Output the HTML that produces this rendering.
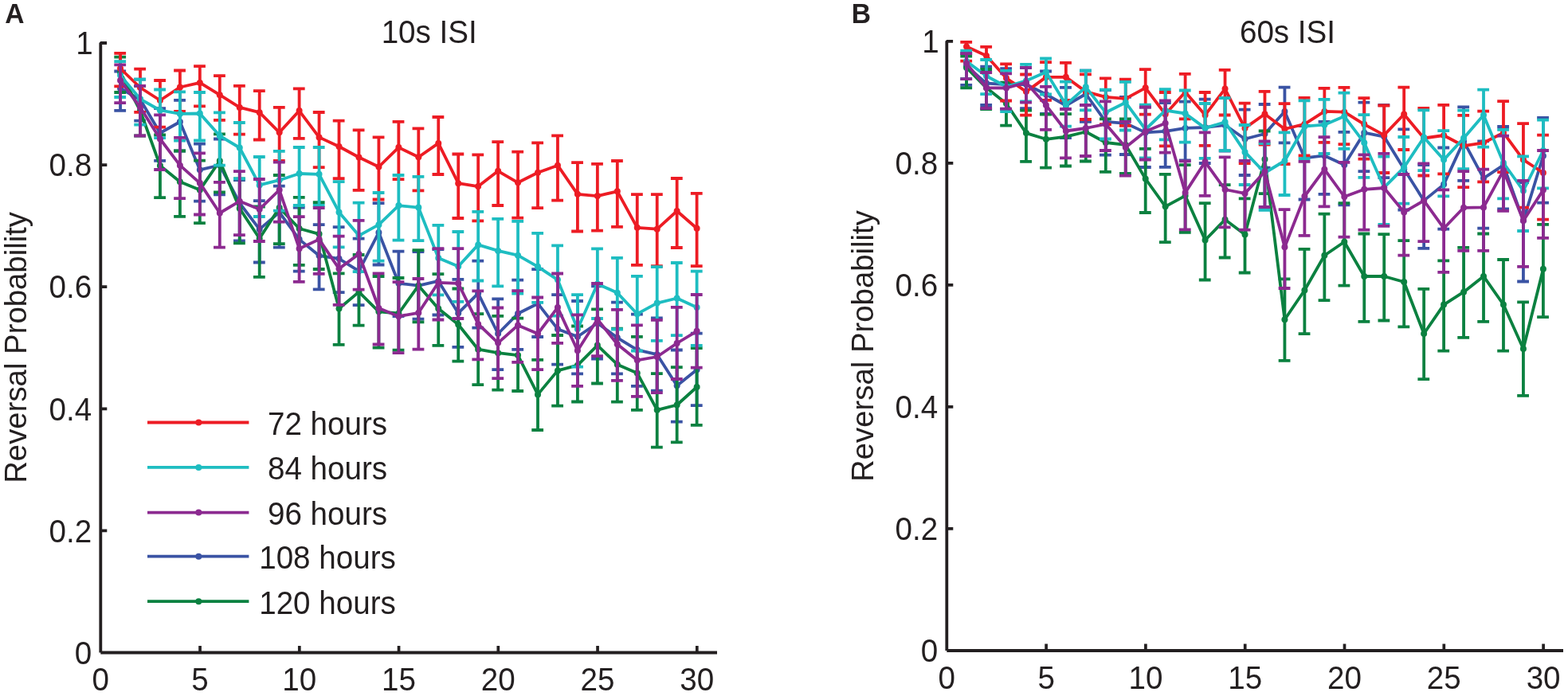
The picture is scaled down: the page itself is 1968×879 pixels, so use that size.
<!DOCTYPE html>
<html><head><meta charset="utf-8"><title>Reversal Probability</title>
<style>html,body{margin:0;padding:0;background:#fff;}svg{display:block;}</style></head>
<body><svg width="1968" height="879" viewBox="0 0 1968 879" font-family="'Liberation Sans', Arial, Helvetica, sans-serif" font-size="38.6" fill="#231F20">
<g stroke="#3A53A4" fill="none" stroke-width="3.8">
<path d="M151.05 89.5V138.8M143.3 89.5H158.1M143.3 138.8H158.1M176 99.6V151.6M168.25 99.6H183.05M168.25 151.6H183.05M200.95 136.2V201.8M193.2 136.2H208M193.2 201.8H208M225.9 125.8V189.5M218.15 125.8H232.95M218.15 189.5H232.95M250.85 180.6V252.6M243.1 180.6H257.9M243.1 252.6H257.9M275.8 174.5V244.3M268.05 174.5H282.85M268.05 244.3H282.85M300.75 226V302.4M293 226H307.8M293 302.4H307.8M325.7 252.1V329.5M317.95 252.1H332.75M317.95 329.5H332.75M350.65 233.7V310.7M342.9 233.7H357.7M342.9 310.7H357.7M375.6 260.6V340.7M367.85 260.6H382.65M367.85 340.7H382.65M400.55 282.2V363.4M392.8 282.2H407.6M392.8 363.4H407.6M425.5 285.1V367.1M417.75 285.1H432.55M417.75 367.1H432.55M450.45 299.6V383.2M442.7 299.6H457.5M442.7 383.2H457.5M475.4 255.1V332.5M467.65 255.1H482.45M467.65 332.5H482.45M500.35 315.7V397M492.6 315.7H507.4M492.6 397H507.4M525.3 316.1V400.6M517.55 316.1H532.35M517.55 400.6H532.35M550.25 313V395.5M542.5 313H557.3M542.5 395.5H557.3M575.2 350.9V435.8M567.45 350.9H582.25M567.45 435.8H582.25M600.15 327.7V411.6M592.4 327.7H607.2M592.4 411.6H607.2M625.1 375.4V464.1M617.35 375.4H632.15M617.35 464.1H632.15M650.05 351.6V438.8M642.3 351.6H657.1M642.3 438.8H657.1M675 338.1V423M667.25 338.1H682.05M667.25 423H682.05M699.95 370.2V457.7M692.2 370.2H707M692.2 457.7H707M724.9 378V469.3M717.15 378H731.95M717.15 469.3H731.95M749.85 359.3V450.7M742.1 359.3H756.9M742.1 450.7H756.9M774.8 379.6V469.4M767.05 379.6H781.85M767.05 469.4H781.85M799.75 394.7V484.8M792 394.7H806.8M792 484.8H806.8M824.7 399.4V490.6M816.95 399.4H831.75M816.95 490.6H831.75M849.65 439.5V529.7M841.9 439.5H856.7M841.9 529.7H856.7M874.6 418.7V509.2M866.85 418.7H881.65M866.85 509.2H881.65"/>
<path stroke-linejoin="round" d="M151.05 111L176 125L200.95 167L225.9 153L250.85 213.3L275.8 207.5L300.75 255L325.7 287.9L350.65 266.6L375.6 300.6L400.55 321L425.5 324.8L450.45 340.3L475.4 291.9L500.35 355.8L525.3 358.7L550.25 352.9L575.2 393.2L600.15 368.3L625.1 419L650.05 393.8L675 381.2L699.95 413.2L724.9 422.8L749.85 405.8L774.8 424.1L799.75 439.3L824.7 445.2L849.65 484.2L874.6 464.2"/>
</g><g fill="#3A53A4"><circle cx="151.05" cy="111" r="4"/><circle cx="176" cy="125" r="4"/><circle cx="200.95" cy="167" r="4"/><circle cx="225.9" cy="153" r="4"/><circle cx="250.85" cy="213.3" r="4"/><circle cx="275.8" cy="207.5" r="4"/><circle cx="300.75" cy="255" r="4"/><circle cx="325.7" cy="287.9" r="4"/><circle cx="350.65" cy="266.6" r="4"/><circle cx="375.6" cy="300.6" r="4"/><circle cx="400.55" cy="321" r="4"/><circle cx="425.5" cy="324.8" r="4"/><circle cx="450.45" cy="340.3" r="4"/><circle cx="475.4" cy="291.9" r="4"/><circle cx="500.35" cy="355.8" r="4"/><circle cx="525.3" cy="358.7" r="4"/><circle cx="550.25" cy="352.9" r="4"/><circle cx="575.2" cy="393.2" r="4"/><circle cx="600.15" cy="368.3" r="4"/><circle cx="625.1" cy="419" r="4"/><circle cx="650.05" cy="393.8" r="4"/><circle cx="675" cy="381.2" r="4"/><circle cx="699.95" cy="413.2" r="4"/><circle cx="724.9" cy="422.8" r="4"/><circle cx="749.85" cy="405.8" r="4"/><circle cx="774.8" cy="424.1" r="4"/><circle cx="799.75" cy="439.3" r="4"/><circle cx="824.7" cy="445.2" r="4"/><circle cx="849.65" cy="484.2" r="4"/><circle cx="874.6" cy="464.2" r="4"/></g>
<g stroke="#0B8140" fill="none" stroke-width="3.8">
<path d="M151.05 71.7V116M143.3 71.7H158.1M143.3 116H158.1M176 107.8V170.5M168.25 107.8H183.05M168.25 170.5H183.05M200.95 169.4V248.2M193.2 169.4H208M193.2 248.2H208M225.9 189.5V271.8M218.15 189.5H232.95M218.15 271.8H232.95M250.85 201.7V280.1M243.1 201.7H257.9M243.1 280.1H257.9M275.8 168.3V241.4M268.05 168.3H282.85M268.05 241.4H282.85M300.75 224.4V305.3M293 224.4H307.8M293 305.3H307.8M325.7 259.5V347.8M317.95 259.5H332.75M317.95 347.8H332.75M350.65 220V306.2M342.9 220H357.7M342.9 306.2H357.7M375.6 247.8V332.9M367.85 247.8H382.65M367.85 332.9H382.65M400.55 254.2V338M392.8 254.2H407.6M392.8 338H407.6M425.5 343.4V432.9M417.75 343.4H432.55M417.75 432.9H432.55M450.45 320V408.7M442.7 320H457.5M442.7 408.7H457.5M475.4 347V436.7M467.65 347H482.45M467.65 436.7H482.45M500.35 349V439.6M492.6 349H507.4M492.6 439.6H507.4M525.3 314.2V404.3M517.55 314.2H532.35M517.55 404.3H532.35M550.25 344.2V433.8M542.5 344.2H557.3M542.5 433.8H557.3M575.2 362.5V453.6M567.45 362.5H582.25M567.45 453.6H582.25M600.15 394.2V483.2M592.4 394.2H607.2M592.4 483.2H607.2M625.1 396.8V489.6M617.35 396.8H632.15M617.35 489.6H632.15M650.05 399.7V491M642.3 399.7H657.1M642.3 491H657.1M675 451.9V540M667.25 451.9H682.05M667.25 540H682.05M699.95 421V509.6M692.2 421H707M692.2 509.6H707M724.9 409.5V504.5M717.15 409.5H731.95M717.15 504.5H731.95M749.85 388.4V481.5M742.1 388.4H756.9M742.1 481.5H756.9M774.8 412.7V504.7M767.05 412.7H781.85M767.05 504.7H781.85M799.75 422.8V514.8M792 422.8H806.8M792 514.8H806.8M824.7 469.2V561.6M816.95 469.2H831.75M816.95 561.6H831.75M849.65 461.2V555.4M841.9 461.2H856.7M841.9 555.4H856.7M874.6 437.1V533.8M866.85 437.1H881.65M866.85 533.8H881.65"/>
<path stroke-linejoin="round" d="M151.05 91L176 139L200.95 208L225.9 228.3L250.85 238.5L275.8 202L300.75 261.7L325.7 299.5L350.65 260.8L375.6 287L400.55 293.8L425.5 387.5L450.45 366.6L475.4 391.3L500.35 393.5L525.3 358.7L550.25 387.5L575.2 407.5L600.15 438.7L625.1 443.2L650.05 446.1L675 495.4L699.95 465.4L724.9 458.7L749.85 433.6L774.8 457.7L799.75 468.4L824.7 514.8L849.65 508.5L874.6 486"/>
</g><g fill="#0B8140"><circle cx="151.05" cy="91" r="4"/><circle cx="176" cy="139" r="4"/><circle cx="200.95" cy="208" r="4"/><circle cx="225.9" cy="228.3" r="4"/><circle cx="250.85" cy="238.5" r="4"/><circle cx="275.8" cy="202" r="4"/><circle cx="300.75" cy="261.7" r="4"/><circle cx="325.7" cy="299.5" r="4"/><circle cx="350.65" cy="260.8" r="4"/><circle cx="375.6" cy="287" r="4"/><circle cx="400.55" cy="293.8" r="4"/><circle cx="425.5" cy="387.5" r="4"/><circle cx="450.45" cy="366.6" r="4"/><circle cx="475.4" cy="391.3" r="4"/><circle cx="500.35" cy="393.5" r="4"/><circle cx="525.3" cy="358.7" r="4"/><circle cx="550.25" cy="387.5" r="4"/><circle cx="575.2" cy="407.5" r="4"/><circle cx="600.15" cy="438.7" r="4"/><circle cx="625.1" cy="443.2" r="4"/><circle cx="650.05" cy="446.1" r="4"/><circle cx="675" cy="495.4" r="4"/><circle cx="699.95" cy="465.4" r="4"/><circle cx="724.9" cy="458.7" r="4"/><circle cx="749.85" cy="433.6" r="4"/><circle cx="774.8" cy="457.7" r="4"/><circle cx="799.75" cy="468.4" r="4"/><circle cx="824.7" cy="514.8" r="4"/><circle cx="849.65" cy="508.5" r="4"/><circle cx="874.6" cy="486" r="4"/></g>
<g stroke="#ED1C24" fill="none" stroke-width="3.8">
<path d="M151.05 66.8V108.3M143.3 66.8H158.1M143.3 108.3H158.1M176 86.7V140.8M168.25 86.7H183.05M168.25 140.8H183.05M200.95 101V159.7M193.2 101H208M193.2 159.7H208M225.9 88.5V140M218.15 88.5H232.95M218.15 140H232.95M250.85 83.2V133.3M243.1 83.2H257.9M243.1 133.3H257.9M275.8 95.2V150.9M268.05 95.2H282.85M268.05 150.9H282.85M300.75 107.8V168.6M293 107.8H307.8M293 168.6H307.8M325.7 114.1V175.5M317.95 114.1H332.75M317.95 175.5H332.75M350.65 134.8V202M342.9 134.8H357.7M342.9 202H357.7M375.6 111.4V173.9M367.85 111.4H382.65M367.85 173.9H382.65M400.55 141V210.1M392.8 141H407.6M392.8 210.1H407.6M425.5 151.7V224.2M417.75 151.7H432.55M417.75 224.2H432.55M450.45 163.3V238.9M442.7 163.3H457.5M442.7 238.9H457.5M475.4 172.4V250.5M467.65 172.4H482.45M467.65 250.5H482.45M500.35 152.8V225.2M492.6 152.8H507.4M492.6 225.2H507.4M525.3 161.3V239.3M517.55 161.3H532.35M517.55 239.3H532.35M550.25 147V219M542.5 147H557.3M542.5 219H557.3M575.2 193.5V274M567.45 193.5H582.25M567.45 274H582.25M600.15 194.4V277.4M592.4 194.4H607.2M592.4 277.4H607.2M625.1 178.1V258M617.35 178.1H632.15M617.35 258H632.15M650.05 190.6V273.7M642.3 190.6H657.1M642.3 273.7H657.1M675 179.4V261.2M667.25 179.4H682.05M667.25 261.2H682.05M699.95 170.3V251.6M692.2 170.3H707M692.2 251.6H707M724.9 204.2V290.5M717.15 204.2H731.95M717.15 290.5H731.95M749.85 205.9V289.6M742.1 205.9H756.9M742.1 289.6H756.9M774.8 202V284.8M767.05 202H781.85M767.05 284.8H781.85M799.75 244.2V332.8M792 244.2H806.8M792 332.8H806.8M824.7 244.2V334.1M816.95 244.2H831.75M816.95 334.1H831.75M849.65 224V311M841.9 224H856.7M841.9 311H856.7M874.6 242.9V334.2M866.85 242.9H881.65M866.85 334.2H881.65"/>
<path stroke-linejoin="round" d="M151.05 86L176 110L200.95 126L225.9 109.5L250.85 103.9L275.8 119.2L300.75 134.9L325.7 141.2L350.65 166.3L375.6 139.1L400.55 172.4L425.5 184L450.45 197.5L475.4 209.5L500.35 185.1L525.3 197.3L550.25 179.9L575.2 230.2L600.15 234.1L625.1 214.8L650.05 229.3L675 216.7L699.95 207.7L724.9 243.8L749.85 246.1L774.8 240.3L799.75 285.8L824.7 287.7L849.65 265L874.6 286.8"/>
</g><g fill="#ED1C24"><circle cx="151.05" cy="86" r="4"/><circle cx="176" cy="110" r="4"/><circle cx="200.95" cy="126" r="4"/><circle cx="225.9" cy="109.5" r="4"/><circle cx="250.85" cy="103.9" r="4"/><circle cx="275.8" cy="119.2" r="4"/><circle cx="300.75" cy="134.9" r="4"/><circle cx="325.7" cy="141.2" r="4"/><circle cx="350.65" cy="166.3" r="4"/><circle cx="375.6" cy="139.1" r="4"/><circle cx="400.55" cy="172.4" r="4"/><circle cx="425.5" cy="184" r="4"/><circle cx="450.45" cy="197.5" r="4"/><circle cx="475.4" cy="209.5" r="4"/><circle cx="500.35" cy="185.1" r="4"/><circle cx="525.3" cy="197.3" r="4"/><circle cx="550.25" cy="179.9" r="4"/><circle cx="575.2" cy="230.2" r="4"/><circle cx="600.15" cy="234.1" r="4"/><circle cx="625.1" cy="214.8" r="4"/><circle cx="650.05" cy="229.3" r="4"/><circle cx="675" cy="216.7" r="4"/><circle cx="699.95" cy="207.7" r="4"/><circle cx="724.9" cy="243.8" r="4"/><circle cx="749.85" cy="246.1" r="4"/><circle cx="774.8" cy="240.3" r="4"/><circle cx="799.75" cy="285.8" r="4"/><circle cx="824.7" cy="287.7" r="4"/><circle cx="849.65" cy="265" r="4"/><circle cx="874.6" cy="286.8" r="4"/></g>
<g stroke="#1EBDC1" fill="none" stroke-width="3.8">
<path d="M151.05 77.1V122M143.3 77.1H158.1M143.3 122H158.1M176 99.6V156.6M168.25 99.6H183.05M168.25 156.6H183.05M200.95 112.5V173.2M193.2 112.5H208M193.2 173.2H208M225.9 115.3V176.7M218.15 115.3H232.95M218.15 176.7H232.95M250.85 116V176.5M243.1 116H257.9M243.1 176.5H257.9M275.8 141.4V207.7M268.05 141.4H282.85M268.05 207.7H282.85M300.75 154V224.4M293 154H307.8M293 224.4H307.8M325.7 197V272M317.95 197H332.75M317.95 272H332.75M350.65 189.8V264.7M342.9 189.8H357.7M342.9 264.7H357.7M375.6 185V258M367.85 185H382.65M367.85 258H382.65M400.55 185V258M392.8 185H407.6M392.8 258H407.6M425.5 228.1V310.3M417.75 228.1H432.55M417.75 310.3H432.55M450.45 254.7V341.2M442.7 254.7H457.5M442.7 341.2H457.5M475.4 242V327.7M467.65 242H482.45M467.65 327.7H482.45M500.35 220V301.6M492.6 220H507.4M492.6 301.6H507.4M525.3 221.9V302.2M517.55 221.9H532.35M517.55 302.2H532.35M550.25 282.8V370.3M542.5 282.8H557.3M542.5 370.3H557.3M575.2 291V378.8M567.45 291H582.25M567.45 378.8H582.25M600.15 265.8V352.5M592.4 265.8H607.2M592.4 352.5H607.2M625.1 274.8V359.4M617.35 274.8H632.15M617.35 359.4H632.15M650.05 277.8V368.7M642.3 277.8H657.1M642.3 368.7H657.1M675 292.8V379.9M667.25 292.8H682.05M667.25 379.9H682.05M699.95 308.4V396.7M692.2 308.4H707M692.2 396.7H707M724.9 370.2V460.6M717.15 370.2H731.95M717.15 460.6H731.95M749.85 312.3V400M742.1 312.3H756.9M742.1 400H756.9M774.8 323.9V413.5M767.05 323.9H781.85M767.05 413.5H781.85M799.75 346.8V440.5M792 346.8H806.8M792 440.5H806.8M824.7 335.1V427.8M816.95 335.1H831.75M816.95 427.8H831.75M849.65 330V421.1M841.9 330H856.7M841.9 421.1H856.7M874.6 340.6V433.8M866.85 340.6H881.65M866.85 433.8H881.65"/>
<path stroke-linejoin="round" d="M151.05 94.6L176 124.3L200.95 138.5L225.9 142.9L250.85 142.5L275.8 170.6L300.75 185.5L325.7 232.4L350.65 226.2L375.6 218L400.55 218.8L425.5 266.4L450.45 295.8L475.4 282.2L500.35 258.1L525.3 260.6L550.25 324L575.2 334.5L600.15 307.4L625.1 314.9L650.05 320.7L675 334.8L699.95 351.3L724.9 413.2L749.85 356.4L774.8 367.7L799.75 394.2L824.7 380.6L849.65 374.5L874.6 386"/>
</g><g fill="#1EBDC1"><circle cx="151.05" cy="94.6" r="4"/><circle cx="176" cy="124.3" r="4"/><circle cx="200.95" cy="138.5" r="4"/><circle cx="225.9" cy="142.9" r="4"/><circle cx="250.85" cy="142.5" r="4"/><circle cx="275.8" cy="170.6" r="4"/><circle cx="300.75" cy="185.5" r="4"/><circle cx="325.7" cy="232.4" r="4"/><circle cx="350.65" cy="226.2" r="4"/><circle cx="375.6" cy="218" r="4"/><circle cx="400.55" cy="218.8" r="4"/><circle cx="425.5" cy="266.4" r="4"/><circle cx="450.45" cy="295.8" r="4"/><circle cx="475.4" cy="282.2" r="4"/><circle cx="500.35" cy="258.1" r="4"/><circle cx="525.3" cy="260.6" r="4"/><circle cx="550.25" cy="324" r="4"/><circle cx="575.2" cy="334.5" r="4"/><circle cx="600.15" cy="307.4" r="4"/><circle cx="625.1" cy="314.9" r="4"/><circle cx="650.05" cy="320.7" r="4"/><circle cx="675" cy="334.8" r="4"/><circle cx="699.95" cy="351.3" r="4"/><circle cx="724.9" cy="413.2" r="4"/><circle cx="749.85" cy="356.4" r="4"/><circle cx="774.8" cy="367.7" r="4"/><circle cx="799.75" cy="394.2" r="4"/><circle cx="824.7" cy="380.6" r="4"/><circle cx="849.65" cy="374.5" r="4"/><circle cx="874.6" cy="386" r="4"/></g>
<g stroke="#8C2A90" fill="none" stroke-width="3.8">
<path d="M151.05 81.3V129.2M143.3 81.3H158.1M143.3 129.2H158.1M176 107.8V170.5M168.25 107.8H183.05M168.25 170.5H183.05M200.95 144.3V213M193.2 144.3H208M193.2 213H208M225.9 172.8V249.1M218.15 172.8H232.95M218.15 249.1H232.95M250.85 192.3V269.5M243.1 192.3H257.9M243.1 269.5H257.9M275.8 228.9V310.7M268.05 228.9H282.85M268.05 310.7H282.85M300.75 215.2V295.2M293 215.2H307.8M293 295.2H307.8M325.7 225V303M317.95 225H332.75M317.95 303H332.75M350.65 203.7V278.6M342.9 203.7H357.7M342.9 278.6H357.7M375.6 272.2V353.9M367.85 272.2H382.65M367.85 353.9H382.65M400.55 261V343.8M392.8 261H407.6M392.8 343.8H407.6M425.5 296.7V382.9M417.75 296.7H432.55M417.75 382.9H432.55M450.45 276.8V363.6M442.7 276.8H457.5M442.7 363.6H457.5M475.4 343.4V432.5M467.65 343.4H482.45M467.65 432.5H482.45M500.35 354.2V443.1M492.6 354.2H507.4M492.6 443.1H507.4M525.3 350V438.7M517.55 350H532.35M517.55 438.7H532.35M550.25 312.2V401.5M542.5 312.2H557.3M542.5 401.5H557.3M575.2 312.2V400M567.45 312.2H582.25M567.45 400H582.25M600.15 365.4V451.3M592.4 365.4H607.2M592.4 451.3H607.2M625.1 386.5V475.1M617.35 386.5H632.15M617.35 475.1H632.15M650.05 365.2V454.8M642.3 365.2H657.1M642.3 454.8H657.1M675 373.5V464.1M667.25 373.5H682.05M667.25 464.1H682.05M699.95 343.5V430.8M692.2 343.5H707M692.2 430.8H707M724.9 395.3V484.8M717.15 395.3H731.95M717.15 484.8H731.95M749.85 356V447.2M742.1 356H756.9M742.1 447.2H756.9M774.8 388.9V477.8M767.05 388.9H781.85M767.05 477.8H781.85M799.75 408.3V497.8M792 408.3H806.8M792 497.8H806.8M824.7 401.9V493.1M816.95 401.9H831.75M816.95 493.1H831.75M849.65 385.8V476M841.9 385.8H856.7M841.9 476H856.7M874.6 370V461.6M866.85 370H881.65M866.85 461.6H881.65"/>
<path stroke-linejoin="round" d="M151.05 101L176 134.8L200.95 174.5L225.9 207.7L250.85 229.8L275.8 267.5L300.75 252.7L325.7 262.7L350.65 238.5L375.6 312.2L400.55 300.6L425.5 337.4L450.45 319L475.4 387L500.35 397.2L525.3 392.8L550.25 354.8L575.2 355.8L600.15 406.9L625.1 430.6L650.05 408.4L675 419L699.95 386.1L724.9 440.3L749.85 400.9L774.8 432.2L799.75 452.3L824.7 448L849.65 431L874.6 415.8"/>
</g><g fill="#8C2A90"><circle cx="151.05" cy="101" r="4"/><circle cx="176" cy="134.8" r="4"/><circle cx="200.95" cy="174.5" r="4"/><circle cx="225.9" cy="207.7" r="4"/><circle cx="250.85" cy="229.8" r="4"/><circle cx="275.8" cy="267.5" r="4"/><circle cx="300.75" cy="252.7" r="4"/><circle cx="325.7" cy="262.7" r="4"/><circle cx="350.65" cy="238.5" r="4"/><circle cx="375.6" cy="312.2" r="4"/><circle cx="400.55" cy="300.6" r="4"/><circle cx="425.5" cy="337.4" r="4"/><circle cx="450.45" cy="319" r="4"/><circle cx="475.4" cy="387" r="4"/><circle cx="500.35" cy="397.2" r="4"/><circle cx="525.3" cy="392.8" r="4"/><circle cx="550.25" cy="354.8" r="4"/><circle cx="575.2" cy="355.8" r="4"/><circle cx="600.15" cy="406.9" r="4"/><circle cx="625.1" cy="430.6" r="4"/><circle cx="650.05" cy="408.4" r="4"/><circle cx="675" cy="419" r="4"/><circle cx="699.95" cy="386.1" r="4"/><circle cx="724.9" cy="440.3" r="4"/><circle cx="749.85" cy="400.9" r="4"/><circle cx="774.8" cy="432.2" r="4"/><circle cx="799.75" cy="452.3" r="4"/><circle cx="824.7" cy="448" r="4"/><circle cx="849.65" cy="431" r="4"/><circle cx="874.6" cy="415.8" r="4"/></g>
<path stroke="#231F20" stroke-width="3.8" fill="none" stroke-linejoin="bevel" d="M134.1 54H126.3V819.5M126.3 819.5H900"/>
<path stroke="#231F20" stroke-width="3.7" d="M126.3 666.4H134.3M126.3 513.3H134.3M126.3 360.2H134.3M126.3 207.1H134.3M251.05 819.5V811M375.8 819.5V811M500.55 819.5V811M625.3 819.5V811M750.05 819.5V811M874.8 819.5V811"/>
<text transform="matrix(1 0 0 1.04 115.1 833.7)" text-anchor="end">0</text>
<text transform="matrix(1 0 0 1.04 115.1 680.6)" text-anchor="end">0.2</text>
<text transform="matrix(1 0 0 1.04 115.1 527.5)" text-anchor="end">0.4</text>
<text transform="matrix(1 0 0 1.04 115.1 374.4)" text-anchor="end">0.6</text>
<text transform="matrix(1 0 0 1.04 115.1 221.3)" text-anchor="end">0.8</text>
<text transform="matrix(1 0 0 1.04 116.6 68.2)" text-anchor="end">1</text>
<text transform="matrix(1 0 0 1.04 126.3 867)" text-anchor="middle">0</text>
<text transform="matrix(1 0 0 1.04 251.05 867)" text-anchor="middle">5</text>
<text transform="matrix(1 0 0 1.04 375.8 867)" text-anchor="middle">10</text>
<text transform="matrix(1 0 0 1.04 500.55 867)" text-anchor="middle">15</text>
<text transform="matrix(1 0 0 1.04 625.3 867)" text-anchor="middle">20</text>
<text transform="matrix(1 0 0 1.04 750.05 867)" text-anchor="middle">25</text>
<text transform="matrix(1 0 0 1.04 874.8 867)" text-anchor="middle">30</text>
<text transform="matrix(1 0 0 1.04 538.7 53.9)" text-anchor="middle">10s ISI</text>
<text transform="translate(33 436.4) rotate(-90)" text-anchor="middle" font-size="38.35">Reversal Probability</text>
<text transform="matrix(1 0 0 1.04 6.2 28.6)" font-weight="bold" font-size="33.6">A</text>
<g stroke="#3A53A4" fill="none" stroke-width="3.8">
<path d="M1213.06 67V106.9M1205.31 67H1220.11M1205.31 106.9H1220.11M1238.02 83.6V132M1230.27 83.6H1245.07M1230.27 132H1245.07M1262.98 86.1V137M1255.23 86.1H1270.03M1255.23 137H1270.03M1287.94 85V136.1M1280.19 85H1294.99M1280.19 136.1H1294.99M1312.9 89.5V143M1305.15 89.5H1319.95M1305.15 143H1319.95M1337.86 109.9V173.2M1330.11 109.9H1344.91M1330.11 173.2H1344.91M1362.82 88.6V152.9M1355.07 88.6H1369.87M1355.07 152.9H1369.87M1387.78 113V194.7M1380.03 113H1394.83M1380.03 194.7H1394.83M1412.74 121.9V194M1404.99 121.9H1419.79M1404.99 194H1419.79M1437.7 134.5V210M1429.95 134.5H1444.75M1429.95 210H1444.75M1462.66 129V209.8M1454.91 129H1469.71M1454.91 209.8H1469.71M1487.62 127.7V201.5M1479.87 127.7H1494.67M1479.87 201.5H1494.67M1512.58 124.7V205M1504.83 124.7H1519.63M1504.83 205H1519.63M1537.54 123.2V189.5M1529.79 123.2H1544.59M1529.79 189.5H1544.59M1562.5 137.7V220M1554.75 137.7H1569.55M1554.75 220H1569.55M1587.46 131V210.6M1579.71 131H1594.51M1579.71 210.6H1594.51M1612.42 109.7V179.4M1604.67 109.7H1619.47M1604.67 179.4H1619.47M1637.38 158V250.5M1629.63 158H1644.43M1629.63 250.5H1644.43M1662.34 152.9V243.9M1654.59 152.9H1669.39M1654.59 243.9H1669.39M1687.3 165.8V257.4M1679.55 165.8H1694.35M1679.55 257.4H1694.35M1712.26 128.6V215.1M1704.51 128.6H1719.31M1704.51 215.1H1719.31M1737.22 132V223.2M1729.47 132H1744.27M1729.47 223.2H1744.27M1762.18 162.3V263.5M1754.43 162.3H1769.23M1754.43 263.5H1769.23M1787.14 207V311.9M1779.39 207H1794.19M1779.39 311.9H1794.19M1812.1 185.5V287.7M1804.35 185.5H1819.15M1804.35 287.7H1819.15M1837.06 134.4V226.8M1829.31 134.4H1844.11M1829.31 226.8H1844.11M1862.02 177.4V286.7M1854.27 177.4H1869.07M1854.27 286.7H1869.07M1886.98 159V262.5M1879.23 159H1894.03M1879.23 262.5H1894.03M1911.94 229V353.5M1904.19 229H1918.99M1904.19 353.5H1918.99M1936.9 148V254.6M1929.15 148H1943.95M1929.15 254.6H1943.95"/>
<path stroke-linejoin="round" d="M1213.06 83L1238.02 104.6L1262.98 106L1287.94 106L1312.9 118.5L1337.86 132.5L1362.82 118L1387.78 152.9L1412.74 154.8L1437.7 166.4L1462.66 164.8L1487.62 160.9L1512.58 160L1537.54 157L1562.5 174.5L1587.46 168L1612.42 139.9L1637.38 198.3L1662.34 195.4L1687.3 206.9L1712.26 166.7L1737.22 171.6L1762.18 212.2L1787.14 251.9L1812.1 231.6L1837.06 177.4L1862.02 223.8L1886.98 207.4L1911.94 277.1L1936.9 195.8"/>
</g><g fill="#3A53A4"><circle cx="1213.06" cy="83" r="4"/><circle cx="1238.02" cy="104.6" r="4"/><circle cx="1262.98" cy="106" r="4"/><circle cx="1287.94" cy="106" r="4"/><circle cx="1312.9" cy="118.5" r="4"/><circle cx="1337.86" cy="132.5" r="4"/><circle cx="1362.82" cy="118" r="4"/><circle cx="1387.78" cy="152.9" r="4"/><circle cx="1412.74" cy="154.8" r="4"/><circle cx="1437.7" cy="166.4" r="4"/><circle cx="1462.66" cy="164.8" r="4"/><circle cx="1487.62" cy="160.9" r="4"/><circle cx="1512.58" cy="160" r="4"/><circle cx="1537.54" cy="157" r="4"/><circle cx="1562.5" cy="174.5" r="4"/><circle cx="1587.46" cy="168" r="4"/><circle cx="1612.42" cy="139.9" r="4"/><circle cx="1637.38" cy="198.3" r="4"/><circle cx="1662.34" cy="195.4" r="4"/><circle cx="1687.3" cy="206.9" r="4"/><circle cx="1712.26" cy="166.7" r="4"/><circle cx="1737.22" cy="171.6" r="4"/><circle cx="1762.18" cy="212.2" r="4"/><circle cx="1787.14" cy="251.9" r="4"/><circle cx="1812.1" cy="231.6" r="4"/><circle cx="1837.06" cy="177.4" r="4"/><circle cx="1862.02" cy="223.8" r="4"/><circle cx="1886.98" cy="207.4" r="4"/><circle cx="1911.94" cy="277.1" r="4"/><circle cx="1936.9" cy="195.8" r="4"/></g>
<g stroke="#0B8140" fill="none" stroke-width="3.8">
<path d="M1213.06 70.5V110.3M1205.31 70.5H1220.11M1205.31 110.3H1220.11M1238.02 87V137M1230.27 87H1245.07M1230.27 137H1245.07M1262.98 103.7V157.6M1255.23 103.7H1270.03M1255.23 157.6H1270.03M1287.94 138.6V202.8M1280.19 138.6H1294.99M1280.19 202.8H1294.99M1312.9 143.6V210.6M1305.15 143.6H1319.95M1305.15 210.6H1319.95M1337.86 143.2V208.5M1330.11 143.2H1344.91M1330.11 208.5H1344.91M1362.82 132V202.5M1355.07 132H1369.87M1355.07 202.5H1369.87M1387.78 149.4V215.8M1380.03 149.4H1394.83M1380.03 215.8H1394.83M1412.74 149.4V218M1404.99 149.4H1419.79M1404.99 218H1419.79M1437.7 186.8V267M1429.95 186.8H1444.75M1429.95 267H1444.75M1462.66 218.8V304.2M1454.91 218.8H1469.71M1454.91 304.2H1469.71M1487.62 207.2V291.8M1479.87 207.2H1494.67M1479.87 291.8H1494.67M1512.58 255.1V351.5M1504.83 255.1H1519.63M1504.83 351.5H1519.63M1537.54 232.2V323.5M1529.79 232.2H1544.59M1529.79 323.5H1544.59M1562.5 249.3V342.5M1554.75 249.3H1569.55M1554.75 342.5H1569.55M1587.46 164.5V243.1M1579.71 164.5H1594.51M1579.71 243.1H1594.51M1612.42 350.4V452.9M1604.67 350.4H1619.47M1604.67 452.9H1619.47M1637.38 312.8V419.2M1629.63 312.8H1644.43M1629.63 419.2H1644.43M1662.34 268.7V377.1M1654.59 268.7H1669.39M1654.59 377.1H1669.39M1687.3 255.2V358.7M1679.55 255.2H1694.35M1679.55 358.7H1694.35M1712.26 293.5V403.9M1704.51 293.5H1719.31M1704.51 403.9H1719.31M1737.22 294.1V402.5M1729.47 294.1H1744.27M1729.47 402.5H1744.27M1762.18 302.2V410.3M1754.43 302.2H1769.23M1754.43 410.3H1769.23M1787.14 362.9V476.1M1779.39 362.9H1794.19M1779.39 476.1H1794.19M1812.1 327.4V440.7M1804.35 327.4H1819.15M1804.35 440.7H1819.15M1837.06 310.9V423.8M1829.31 310.9H1844.11M1829.31 423.8H1844.11M1862.02 293.5V403.9M1854.27 293.5H1869.07M1854.27 403.9H1869.07M1886.98 326V440.7M1879.23 326H1894.03M1879.23 440.7H1894.03M1911.94 379.4V496.8M1904.19 379.4H1918.99M1904.19 496.8H1918.99M1936.9 281.9V398.1M1929.15 281.9H1943.95M1929.15 398.1H1943.95"/>
<path stroke-linejoin="round" d="M1213.06 85L1238.02 110.3L1262.98 130L1287.94 167.1L1312.9 174.8L1337.86 171.7L1362.82 165.5L1387.78 179L1412.74 181.9L1437.7 224.5L1462.66 259.3L1487.62 245.8L1512.58 301.5L1537.54 275.8L1562.5 294.5L1587.46 200L1612.42 401.2L1637.38 364.5L1662.34 320.7L1687.3 303.7L1712.26 347L1737.22 347L1762.18 354L1787.14 419L1812.1 382.6L1837.06 366.7L1862.02 346.9L1886.98 382.5L1911.94 438L1936.9 337.8"/>
</g><g fill="#0B8140"><circle cx="1213.06" cy="85" r="4"/><circle cx="1238.02" cy="110.3" r="4"/><circle cx="1262.98" cy="130" r="4"/><circle cx="1287.94" cy="167.1" r="4"/><circle cx="1312.9" cy="174.8" r="4"/><circle cx="1337.86" cy="171.7" r="4"/><circle cx="1362.82" cy="165.5" r="4"/><circle cx="1387.78" cy="179" r="4"/><circle cx="1412.74" cy="181.9" r="4"/><circle cx="1437.7" cy="224.5" r="4"/><circle cx="1462.66" cy="259.3" r="4"/><circle cx="1487.62" cy="245.8" r="4"/><circle cx="1512.58" cy="301.5" r="4"/><circle cx="1537.54" cy="275.8" r="4"/><circle cx="1562.5" cy="294.5" r="4"/><circle cx="1587.46" cy="200" r="4"/><circle cx="1612.42" cy="401.2" r="4"/><circle cx="1637.38" cy="364.5" r="4"/><circle cx="1662.34" cy="320.7" r="4"/><circle cx="1687.3" cy="303.7" r="4"/><circle cx="1712.26" cy="347" r="4"/><circle cx="1737.22" cy="347" r="4"/><circle cx="1762.18" cy="354" r="4"/><circle cx="1787.14" cy="419" r="4"/><circle cx="1812.1" cy="382.6" r="4"/><circle cx="1837.06" cy="366.7" r="4"/><circle cx="1862.02" cy="346.9" r="4"/><circle cx="1886.98" cy="382.5" r="4"/><circle cx="1911.94" cy="438" r="4"/><circle cx="1936.9" cy="337.8" r="4"/></g>
<g stroke="#ED1C24" fill="none" stroke-width="3.8">
<path d="M1213.06 52.8V76.7M1205.31 52.8H1220.11M1205.31 76.7H1220.11M1238.02 58.9V91M1230.27 58.9H1245.07M1230.27 91H1245.07M1262.98 80.4V126.5M1255.23 80.4H1270.03M1255.23 126.5H1270.03M1287.94 93.5V144.7M1280.19 93.5H1294.99M1280.19 144.7H1294.99M1312.9 78.1V125.9M1305.15 78.1H1319.95M1305.15 125.9H1319.95M1337.86 78.8V125.8M1330.11 78.8H1344.91M1330.11 125.8H1344.91M1362.82 93.3V150M1355.07 93.3H1369.87M1355.07 150H1369.87M1387.78 98.3V156.1M1380.03 98.3H1394.83M1380.03 156.1H1394.83M1412.74 99.7V157.9M1404.99 99.7H1419.79M1404.99 157.9H1419.79M1437.7 87.1V143.6M1429.95 87.1H1444.75M1429.95 143.6H1444.75M1462.66 116V183.3M1454.91 116H1469.71M1454.91 183.3H1469.71M1487.62 92.8V149.3M1479.87 92.8H1494.67M1479.87 149.3H1494.67M1512.58 116V182.8M1504.83 116H1519.63M1504.83 182.8H1519.63M1537.54 87.8V144.5M1529.79 87.8H1544.59M1529.79 144.5H1544.59M1562.5 129.6V205.2M1554.75 129.6H1569.55M1554.75 205.2H1569.55M1587.46 114.8V181.5M1579.71 114.8H1594.51M1579.71 181.5H1594.51M1612.42 130.2V206M1604.67 130.2H1619.47M1604.67 206H1619.47M1637.38 122.9V195.5M1629.63 122.9H1644.43M1629.63 195.5H1644.43M1662.34 110.9V178.8M1654.59 110.9H1669.39M1654.59 178.8H1669.39M1687.3 109.9V181.1M1679.55 109.9H1694.35M1679.55 181.1H1694.35M1712.26 123.2V199.6M1704.51 123.2H1719.31M1704.51 199.6H1719.31M1737.22 132.5V217M1729.47 132.5H1744.27M1729.47 217H1744.27M1762.18 109.7V188M1754.43 109.7H1769.23M1754.43 188H1769.23M1787.14 135.8V220.5M1779.39 135.8H1794.19M1779.39 220.5H1794.19M1812.1 131.9V218.4M1804.35 131.9H1819.15M1804.35 218.4H1819.15M1837.06 144.9V235.2M1829.31 144.9H1844.11M1829.31 235.2H1844.11M1862.02 139.7V228.3M1854.27 139.7H1869.07M1854.27 228.3H1869.07M1886.98 127.1V216.1M1879.23 127.1H1894.03M1879.23 216.1H1894.03M1911.94 155.1V260.6M1904.19 155.1H1918.99M1904.19 260.6H1918.99M1936.9 169.6V275.7M1929.15 169.6H1943.95M1929.15 275.7H1943.95"/>
<path stroke-linejoin="round" d="M1213.06 58.5L1238.02 69.9L1262.98 98L1287.94 115.1L1312.9 96.9L1337.86 96.8L1362.82 115.1L1387.78 121.9L1412.74 123.8L1437.7 110.3L1462.66 143.5L1487.62 115.5L1512.58 144.5L1537.54 111.6L1562.5 160.9L1587.46 143.2L1612.42 162L1637.38 155.8L1662.34 139.9L1687.3 140.7L1712.26 156.1L1737.22 169.6L1762.18 143.5L1787.14 173.5L1812.1 170L1837.06 183.2L1862.02 179.3L1886.98 166.7L1911.94 200.6L1936.9 217"/>
</g><g fill="#ED1C24"><circle cx="1213.06" cy="58.5" r="4"/><circle cx="1238.02" cy="69.9" r="4"/><circle cx="1262.98" cy="98" r="4"/><circle cx="1287.94" cy="115.1" r="4"/><circle cx="1312.9" cy="96.9" r="4"/><circle cx="1337.86" cy="96.8" r="4"/><circle cx="1362.82" cy="115.1" r="4"/><circle cx="1387.78" cy="121.9" r="4"/><circle cx="1412.74" cy="123.8" r="4"/><circle cx="1437.7" cy="110.3" r="4"/><circle cx="1462.66" cy="143.5" r="4"/><circle cx="1487.62" cy="115.5" r="4"/><circle cx="1512.58" cy="144.5" r="4"/><circle cx="1537.54" cy="111.6" r="4"/><circle cx="1562.5" cy="160.9" r="4"/><circle cx="1587.46" cy="143.2" r="4"/><circle cx="1612.42" cy="162" r="4"/><circle cx="1637.38" cy="155.8" r="4"/><circle cx="1662.34" cy="139.9" r="4"/><circle cx="1687.3" cy="140.7" r="4"/><circle cx="1712.26" cy="156.1" r="4"/><circle cx="1737.22" cy="169.6" r="4"/><circle cx="1762.18" cy="143.5" r="4"/><circle cx="1787.14" cy="173.5" r="4"/><circle cx="1812.1" cy="170" r="4"/><circle cx="1837.06" cy="183.2" r="4"/><circle cx="1862.02" cy="179.3" r="4"/><circle cx="1886.98" cy="166.7" r="4"/><circle cx="1911.94" cy="200.6" r="4"/><circle cx="1936.9" cy="217" r="4"/></g>
<g stroke="#1EBDC1" fill="none" stroke-width="3.8">
<path d="M1213.06 63.7V99M1205.31 63.7H1220.11M1205.31 99H1220.11M1238.02 75V118.1M1230.27 75H1245.07M1230.27 118.1H1245.07M1262.98 88.9V140.1M1255.23 88.9H1270.03M1255.23 140.1H1270.03M1287.94 80.9V127.4M1280.19 80.9H1294.99M1280.19 127.4H1294.99M1312.9 73.5V118.5M1305.15 73.5H1319.95M1305.15 118.5H1319.95M1337.86 102.6V158.7M1330.11 102.6H1344.91M1330.11 158.7H1344.91M1362.82 88.6V138.4M1355.07 88.6H1369.87M1355.07 138.4H1369.87M1387.78 112.6V174.5M1380.03 112.6H1394.83M1380.03 174.5H1394.83M1412.74 102.9V163.5M1404.99 102.9H1419.79M1404.99 163.5H1419.79M1437.7 131.6V198.4M1429.95 131.6H1444.75M1429.95 198.4H1444.75M1462.66 112.2V175.4M1454.91 112.2H1469.71M1454.91 175.4H1469.71M1487.62 113.5V178.7M1479.87 113.5H1494.67M1479.87 178.7H1494.67M1512.58 130V198.8M1504.83 130H1519.63M1504.83 198.8H1519.63M1537.54 123.2V189.2M1529.79 123.2H1544.59M1529.79 189.2H1544.59M1562.5 157V232M1554.75 157H1569.55M1554.75 232H1569.55M1587.46 180V263.8M1579.71 180H1594.51M1579.71 263.8H1594.51M1612.42 166.4V245M1604.67 166.4H1619.47M1604.67 245H1619.47M1637.38 126.4V199.1M1629.63 126.4H1644.43M1629.63 199.1H1644.43M1662.34 124.8V193M1654.59 124.8H1669.39M1654.59 193H1669.39M1687.3 116.7V186.8M1679.55 116.7H1694.35M1679.55 186.8H1694.35M1712.26 144.1V222.8M1704.51 144.1H1719.31M1704.51 222.8H1719.31M1737.22 196.7V281.9M1729.47 196.7H1744.27M1729.47 281.9H1744.27M1762.18 172V255.7M1754.43 172H1769.23M1754.43 255.7H1769.23M1787.14 138.3V214.1M1779.39 138.3H1794.19M1779.39 214.1H1794.19M1812.1 164.2V246.3M1804.35 164.2H1819.15M1804.35 246.3H1819.15M1837.06 138.7V212.2M1829.31 138.7H1844.11M1829.31 212.2H1844.11M1862.02 112.6V184.7M1854.27 112.6H1869.07M1854.27 184.7H1869.07M1886.98 162.9V249.3M1879.23 162.9H1894.03M1879.23 249.3H1894.03M1911.94 196.3V290M1904.19 196.3H1918.99M1904.19 290H1918.99M1936.9 150.7V236.4M1929.15 150.7H1943.95M1929.15 236.4H1943.95"/>
<path stroke-linejoin="round" d="M1213.06 77L1238.02 95.5L1262.98 108.8L1287.94 101.4L1312.9 90.6L1337.86 131.6L1362.82 109.3L1387.78 141.3L1412.74 128.7L1437.7 162.5L1462.66 138.7L1487.62 142.5L1512.58 160.9L1537.54 153.2L1562.5 190.9L1587.46 217L1612.42 202L1637.38 158.7L1662.34 156.7L1687.3 146.1L1712.26 179.3L1737.22 235.4L1762.18 210.3L1787.14 172.5L1812.1 200.6L1837.06 173.5L1862.02 144.5L1886.98 204.5L1911.94 239.5L1936.9 189"/>
</g><g fill="#1EBDC1"><circle cx="1213.06" cy="77" r="4"/><circle cx="1238.02" cy="95.5" r="4"/><circle cx="1262.98" cy="108.8" r="4"/><circle cx="1287.94" cy="101.4" r="4"/><circle cx="1312.9" cy="90.6" r="4"/><circle cx="1337.86" cy="131.6" r="4"/><circle cx="1362.82" cy="109.3" r="4"/><circle cx="1387.78" cy="141.3" r="4"/><circle cx="1412.74" cy="128.7" r="4"/><circle cx="1437.7" cy="162.5" r="4"/><circle cx="1462.66" cy="138.7" r="4"/><circle cx="1487.62" cy="142.5" r="4"/><circle cx="1512.58" cy="160.9" r="4"/><circle cx="1537.54" cy="153.2" r="4"/><circle cx="1562.5" cy="190.9" r="4"/><circle cx="1587.46" cy="217" r="4"/><circle cx="1612.42" cy="202" r="4"/><circle cx="1637.38" cy="158.7" r="4"/><circle cx="1662.34" cy="156.7" r="4"/><circle cx="1687.3" cy="146.1" r="4"/><circle cx="1712.26" cy="179.3" r="4"/><circle cx="1737.22" cy="235.4" r="4"/><circle cx="1762.18" cy="210.3" r="4"/><circle cx="1787.14" cy="172.5" r="4"/><circle cx="1812.1" cy="200.6" r="4"/><circle cx="1837.06" cy="173.5" r="4"/><circle cx="1862.02" cy="144.5" r="4"/><circle cx="1886.98" cy="204.5" r="4"/><circle cx="1911.94" cy="239.5" r="4"/><circle cx="1936.9" cy="189" r="4"/></g>
<g stroke="#8C2A90" fill="none" stroke-width="3.8">
<path d="M1213.06 67.1V99.2M1205.31 67.1H1220.11M1205.31 99.2H1220.11M1238.02 91V136M1230.27 91H1245.07M1230.27 136H1245.07M1262.98 92.3V136.7M1255.23 92.3H1270.03M1255.23 136.7H1270.03M1287.94 84.9V128.7M1280.19 84.9H1294.99M1280.19 128.7H1294.99M1312.9 108.8V162.9M1305.15 108.8H1319.95M1305.15 162.9H1319.95M1337.86 137V198.4M1330.11 137H1344.91M1330.11 198.4H1344.91M1362.82 132V196M1355.07 132H1369.87M1355.07 196H1369.87M1387.78 127.3V189M1380.03 127.3H1394.83M1380.03 189H1394.83M1412.74 152.9V220.6M1404.99 152.9H1419.79M1404.99 220.6H1419.79M1437.7 134.5V200.5M1429.95 134.5H1444.75M1429.95 200.5H1444.75M1462.66 126.5V191.7M1454.91 126.5H1469.71M1454.91 191.7H1469.71M1487.62 202.3V288.3M1479.87 202.3H1494.67M1479.87 288.3H1494.67M1512.58 166.3V245.8M1504.83 166.3H1519.63M1504.83 245.8H1519.63M1537.54 197.4V285.4M1529.79 197.4H1544.59M1529.79 285.4H1544.59M1562.5 202V288.7M1554.75 202H1569.55M1554.75 288.7H1569.55M1587.46 177.4V260M1579.71 177.4H1594.51M1579.71 260H1594.51M1612.42 263.2V362M1604.67 263.2H1619.47M1604.67 362H1619.47M1637.38 202.9V295.8M1629.63 202.9H1644.43M1629.63 295.8H1644.43M1662.34 172.1V259.4M1654.59 172.1H1669.39M1654.59 259.4H1669.39M1687.3 203.9V297.7M1679.55 203.9H1694.35M1679.55 297.7H1694.35M1712.26 194.4V288.7M1704.51 194.4H1719.31M1704.51 288.7H1719.31M1737.22 192.9V283.8M1729.47 192.9H1744.27M1729.47 283.8H1744.27M1762.18 219V320.6M1754.43 219H1769.23M1754.43 320.6H1769.23M1787.14 205.4V303.2M1779.39 205.4H1794.19M1779.39 303.2H1794.19M1812.1 238.4V341.8M1804.35 238.4H1819.15M1804.35 341.8H1819.15M1837.06 215.1V314.8M1829.31 215.1H1844.11M1829.31 314.8H1844.11M1862.02 212.6V314.8M1854.27 212.6H1869.07M1854.27 314.8H1869.07M1886.98 170.6V264.9M1879.23 170.6H1894.03M1879.23 264.9H1894.03M1911.94 226.8V334.9M1904.19 226.8H1918.99M1904.19 334.9H1918.99M1936.9 189V298.9M1929.15 189H1943.95M1929.15 298.9H1943.95"/>
<path stroke-linejoin="round" d="M1213.06 79.6L1238.02 110.3L1262.98 110.5L1287.94 103.7L1312.9 132.1L1337.86 164.5L1362.82 161L1387.78 155.8L1412.74 185L1437.7 165L1462.66 154.7L1487.62 241.9L1512.58 203.3L1537.54 238L1562.5 242.9L1587.46 215.5L1612.42 310.3L1637.38 246.5L1662.34 212.7L1687.3 247L1712.26 237.8L1737.22 236L1762.18 266.4L1787.14 251.9L1812.1 286.7L1837.06 260.8L1862.02 260.4L1886.98 214.1L1911.94 277.1L1936.9 238.6"/>
</g><g fill="#8C2A90"><circle cx="1213.06" cy="79.6" r="4"/><circle cx="1238.02" cy="110.3" r="4"/><circle cx="1262.98" cy="110.5" r="4"/><circle cx="1287.94" cy="103.7" r="4"/><circle cx="1312.9" cy="132.1" r="4"/><circle cx="1337.86" cy="164.5" r="4"/><circle cx="1362.82" cy="161" r="4"/><circle cx="1387.78" cy="155.8" r="4"/><circle cx="1412.74" cy="185" r="4"/><circle cx="1437.7" cy="165" r="4"/><circle cx="1462.66" cy="154.7" r="4"/><circle cx="1487.62" cy="241.9" r="4"/><circle cx="1512.58" cy="203.3" r="4"/><circle cx="1537.54" cy="238" r="4"/><circle cx="1562.5" cy="242.9" r="4"/><circle cx="1587.46" cy="215.5" r="4"/><circle cx="1612.42" cy="310.3" r="4"/><circle cx="1637.38" cy="246.5" r="4"/><circle cx="1662.34" cy="212.7" r="4"/><circle cx="1687.3" cy="247" r="4"/><circle cx="1712.26" cy="237.8" r="4"/><circle cx="1737.22" cy="236" r="4"/><circle cx="1762.18" cy="266.4" r="4"/><circle cx="1787.14" cy="251.9" r="4"/><circle cx="1812.1" cy="286.7" r="4"/><circle cx="1837.06" cy="260.8" r="4"/><circle cx="1862.02" cy="260.4" r="4"/><circle cx="1886.98" cy="214.1" r="4"/><circle cx="1911.94" cy="277.1" r="4"/><circle cx="1936.9" cy="238.6" r="4"/></g>
<path stroke="#231F20" stroke-width="3.8" fill="none" stroke-linejoin="bevel" d="M1196.1 51.8H1188.3V817M1188.3 817H1962"/>
<path stroke="#231F20" stroke-width="3.7" d="M1188.3 663.96H1196.3M1188.3 510.92H1196.3M1188.3 357.88H1196.3M1188.3 204.84H1196.3M1313.1 817V808.5M1437.9 817V808.5M1562.7 817V808.5M1687.5 817V808.5M1812.3 817V808.5M1937.1 817V808.5"/>
<text transform="matrix(1 0 0 1.04 1177.1 831.2)" text-anchor="end">0</text>
<text transform="matrix(1 0 0 1.04 1177.1 678.16)" text-anchor="end">0.2</text>
<text transform="matrix(1 0 0 1.04 1177.1 525.12)" text-anchor="end">0.4</text>
<text transform="matrix(1 0 0 1.04 1177.1 372.08)" text-anchor="end">0.6</text>
<text transform="matrix(1 0 0 1.04 1177.1 219.04)" text-anchor="end">0.8</text>
<text transform="matrix(1 0 0 1.04 1178.6 66)" text-anchor="end">1</text>
<text transform="matrix(1 0 0 1.04 1188.3 864.5)" text-anchor="middle">0</text>
<text transform="matrix(1 0 0 1.04 1313.1 864.5)" text-anchor="middle">5</text>
<text transform="matrix(1 0 0 1.04 1437.9 864.5)" text-anchor="middle">10</text>
<text transform="matrix(1 0 0 1.04 1562.7 864.5)" text-anchor="middle">15</text>
<text transform="matrix(1 0 0 1.04 1687.5 864.5)" text-anchor="middle">20</text>
<text transform="matrix(1 0 0 1.04 1812.3 864.5)" text-anchor="middle">25</text>
<text transform="matrix(1 0 0 1.04 1937.1 864.5)" text-anchor="middle">30</text>
<text transform="matrix(1 0 0 1.04 1616 54.2)" text-anchor="middle">60s ISI</text>
<text transform="translate(1095.6 434.5) rotate(-90)" text-anchor="middle" font-size="38.35">Reversal Probability</text>
<text transform="matrix(1 0 0 1.04 1068.8 28.7)" font-weight="bold" font-size="33.6">B</text>
<path stroke="#ED1C24" stroke-width="3.8" d="M185 530.5H312.4"/><circle cx="249.3" cy="530.5" r="4" fill="#ED1C24"/>
<text transform="matrix(1 0 0 1.04 411 545.8)" text-anchor="middle">72 hours</text>
<path stroke="#1EBDC1" stroke-width="3.8" d="M185 586.9H312.4"/><circle cx="249.3" cy="586.9" r="4" fill="#1EBDC1"/>
<text transform="matrix(1 0 0 1.04 411 602.2)" text-anchor="middle">84 hours</text>
<path stroke="#8C2A90" stroke-width="3.8" d="M185 643.6H312.4"/><circle cx="249.3" cy="643.6" r="4" fill="#8C2A90"/>
<text transform="matrix(1 0 0 1.04 411 658.9)" text-anchor="middle">96 hours</text>
<path stroke="#3A53A4" stroke-width="3.8" d="M185 698.7H312.4"/><circle cx="249.3" cy="698.7" r="4" fill="#3A53A4"/>
<text transform="matrix(1 0 0 1.04 411 714)" text-anchor="middle">108 hours</text>
<path stroke="#0B8140" stroke-width="3.8" d="M185 755.2H312.4"/><circle cx="249.3" cy="755.2" r="4" fill="#0B8140"/>
<text transform="matrix(1 0 0 1.04 411 770.5)" text-anchor="middle">120 hours</text>
</svg></body></html>
